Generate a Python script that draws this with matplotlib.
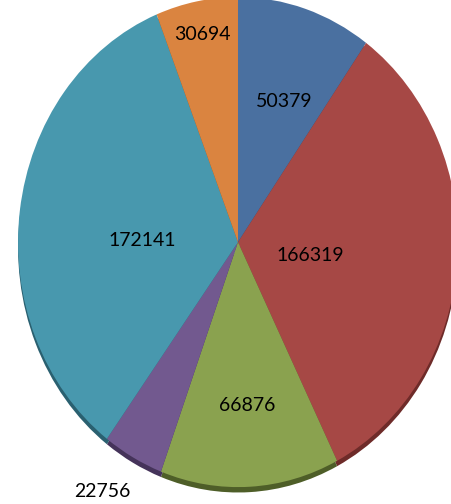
import numpy as np
import matplotlib.pyplot as plt

values = [50379, 166319, 66876, 22756, 172141, 30694]
colors = ['#4A70A0', '#A64845', '#8AA24F', '#72598F', '#4898AE', '#DA8440']
edge_colors = ['#2E4A6E', '#6E2B29', '#4E5E28', '#45335A', '#2A6070', '#8E5425']
label_r = [0.64, 0.33, 0.67, 1.16, 0.44, 0.87]
label_shift = [(2, -6), (0, -5), (1, 0), (-10, 0), (0, -9), (0, -1)]

fig = plt.figure(figsize=(4.52, 5.04), dpi=100)
ax = fig.add_axes([0, 0, 1, 1])

# darker copy underneath gives the thin 3D rim at the bottom
ax.pie(values, colors=edge_colors, startangle=90, counterclock=False,
       center=(0, -0.022), wedgeprops={'linewidth': 0})
wedges, _ = ax.pie(values, colors=colors, startangle=90, counterclock=False,
                   wedgeprops={'linewidth': 0})

for w, v, r, s in zip(wedges, values, label_r, label_shift):
    ang = np.deg2rad((w.theta1 + w.theta2) / 2)
    ax.annotate(str(v), (r * np.cos(ang), r * np.sin(ang)), xytext=s,
                textcoords='offset points', ha='center', va='center',
                fontsize=14, family='Lato', color='black')

ax.set_aspect('auto')
ax.set_xlim(-1.082, 0.973)
ax.set_ylim(-1.069, 0.988)
ax.axis('off')

plt.savefig('out.png', dpi=100)
